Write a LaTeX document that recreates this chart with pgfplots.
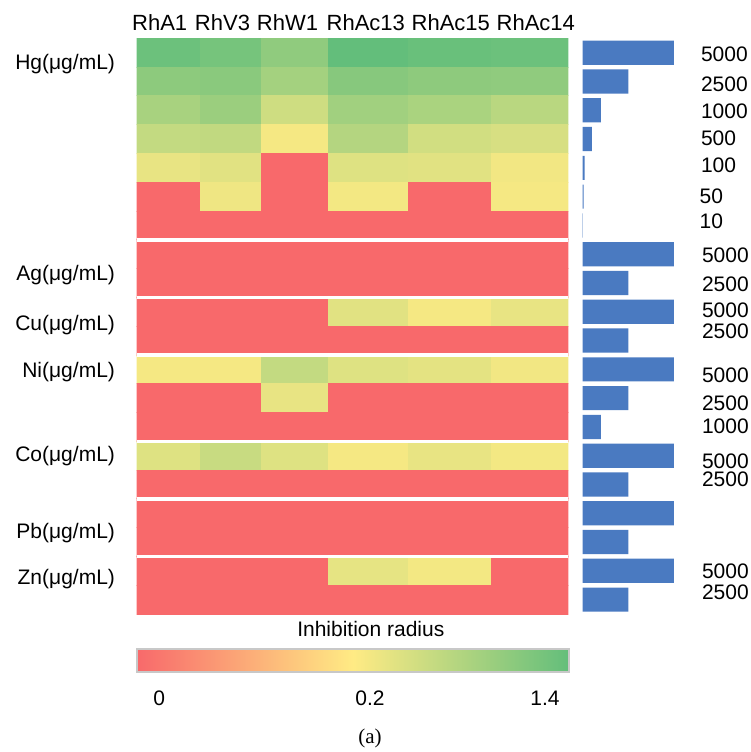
\documentclass[border=0pt]{standalone}
\usepackage{fontspec}
\setmainfont{Liberation Sans}
\newfontfamily\capfont{Liberation Serif}
\usepackage{pgfplots}
\usepackage{pgfplotstable}
\pgfplotsset{compat=1.18}

\definecolor{barblue}{RGB}{74,122,193}
\definecolor{cbframe}{RGB}{200,200,200}

% cell values (inhibition radius), one grid row per line; last vertex of each row is a dummy
\pgfplotstableread[row sep=\\]{
x y c\\
0 0 1.33\\ 63.3 0 1.25\\ 125 0 1.05\\ 191.6 0 1.40\\ 271.6 0 1.35\\ 355 0 1.33\\ 431.6 0 0\\
0 1 1.08\\ 63.3 1 1.10\\ 125 1 0.90\\ 191.6 1 1.12\\ 271.6 1 1.07\\ 355 1 1.05\\ 431.6 1 0\\
0 2 0.87\\ 63.3 2 0.97\\ 125 2 0.58\\ 191.6 2 0.92\\ 271.6 2 0.85\\ 355 2 0.74\\ 431.6 2 0\\
0 3 0.66\\ 63.3 3 0.68\\ 125 3 0.28\\ 191.6 3 0.78\\ 271.6 3 0.55\\ 355 3 0.51\\ 431.6 3 0\\
0 4 0.38\\ 63.3 4 0.43\\ 125 4 0\\ 191.6 4 0.45\\ 271.6 4 0.43\\ 355 4 0.30\\ 431.6 4 0\\
0 5 0\\ 63.3 5 0.32\\ 125 5 0\\ 191.6 5 0.29\\ 271.6 5 0\\ 355 5 0.28\\ 431.6 5 0\\
0 6 0\\ 63.3 6 0\\ 125 6 0\\ 191.6 6 0\\ 271.6 6 0\\ 355 6 0\\ 431.6 6 0\\
0 7 0\\ 63.3 7 0\\ 125 7 0\\ 191.6 7 0\\ 271.6 7 0\\ 355 7 0\\ 431.6 7 0\\
0 8 0\\ 63.3 8 0\\ 125 8 0\\ 191.6 8 0\\ 271.6 8 0\\ 355 8 0\\ 431.6 8 0\\
0 9 0\\ 63.3 9 0\\ 125 9 0\\ 191.6 9 0.43\\ 271.6 9 0.28\\ 355 9 0.38\\ 431.6 9 0\\
0 10 0\\ 63.3 10 0\\ 125 10 0\\ 191.6 10 0\\ 271.6 10 0\\ 355 10 0\\ 431.6 10 0\\
0 11 0.28\\ 63.3 11 0.28\\ 125 11 0.66\\ 191.6 11 0.45\\ 271.6 11 0.41\\ 355 11 0.30\\ 431.6 11 0\\
0 12 0\\ 63.3 12 0\\ 125 12 0.38\\ 191.6 12 0\\ 271.6 12 0\\ 355 12 0\\ 431.6 12 0\\
0 13 0\\ 63.3 13 0\\ 125 13 0\\ 191.6 13 0\\ 271.6 13 0\\ 355 13 0\\ 431.6 13 0\\
0 14 0.45\\ 63.3 14 0.62\\ 125 14 0.45\\ 191.6 14 0.28\\ 271.6 14 0.38\\ 355 14 0.29\\ 431.6 14 0\\
0 15 0\\ 63.3 15 0\\ 125 15 0\\ 191.6 15 0\\ 271.6 15 0\\ 355 15 0\\ 431.6 15 0\\
0 16 0\\ 63.3 16 0\\ 125 16 0\\ 191.6 16 0\\ 271.6 16 0\\ 355 16 0\\ 431.6 16 0\\
0 17 0\\ 63.3 17 0\\ 125 17 0\\ 191.6 17 0\\ 271.6 17 0\\ 355 17 0\\ 431.6 17 0\\
0 18 0\\ 63.3 18 0\\ 125 18 0\\ 191.6 18 0.39\\ 271.6 18 0.29\\ 355 18 0\\ 431.6 18 0\\
0 19 0\\ 63.3 19 0\\ 125 19 0\\ 191.6 19 0\\ 271.6 19 0\\ 355 19 0\\ 431.6 19 0\\
0 20 0\\ 63.3 20 0\\ 125 20 0\\ 191.6 20 0\\ 271.6 20 0\\ 355 20 0\\ 431.6 20 0\\
}\heat

% concentrations shown as bars, one per row
\pgfplotstableread{
conc row
5000 0.5
2500 1.5
1000 2.5
500 3.5
100 4.5
50 5.5
10 6.5
5000 7.5
2500 8.5
5000 9.5
2500 10.5
5000 11.5
2500 12.5
1000 13.5
5000 14.5
2500 15.5
5000 16.5
2500 17.5
5000 18.5
2500 19.5
}\conc

\begin{document}
\begin{tikzpicture}
\useasboundingbox (0,0) rectangle (375.5pt,-376pt);

% heatmap
\begin{axis}[at={(68.35pt,-19.15pt)}, anchor=north west,
  scale only axis, width=215.8pt, height=287.85pt, hide axis,
  xmin=0, xmax=431.6, ymin=0, ymax=20, y dir=reverse,
  colormap={rdylgn}{rgb255(0cm)=(248,105,107) rgb255(2cm)=(255,235,132) rgb255(14cm)=(99,190,123)},
  point meta min=0, point meta max=1.4]
  \addplot[surf, shader=flat corner, mesh/cols=7, mesh/rows=21, point meta=explicit]
    table[x=x, y=y, meta=c] {\heat};
  \draw[white, line width=1.8pt] (axis cs:0,7) -- (axis cs:431.6,7);
  \draw[white, line width=1.8pt] (axis cs:0,9) -- (axis cs:431.6,9);
  \draw[white, line width=1.8pt] (axis cs:0,11) -- (axis cs:431.6,11);
  \draw[white, line width=1.8pt] (axis cs:0,14) -- (axis cs:431.6,14);
  \draw[white, line width=1.8pt] (axis cs:0,16) -- (axis cs:431.6,16);
  \draw[white, line width=1.8pt] (axis cs:0,18) -- (axis cs:431.6,18);
\end{axis}

% concentration bars
\begin{axis}[at={(291.35pt,-19.15pt)}, anchor=north west,
  scale only axis, width=45.65pt, height=287.85pt, hide axis,
  xmin=0, xmax=5000, ymin=0, ymax=20, y dir=reverse,
  xbar, bar width=0.84]
  \addplot[fill=barblue, draw=none] table[x=conc, y=row] {\conc};
\end{axis}

% colour scale
\begin{axis}[at={(68.35pt,-316pt)}, anchor=north west,
  scale only axis, width=216.3pt, height=11.5pt, hide axis,
  xmin=0, xmax=1, ymin=0, ymax=1,
  colormap={rdylgnbar}{rgb255=(248,105,107) rgb255=(255,235,132) rgb255=(99,190,123)},
  point meta min=0, point meta max=1,
  colorbar horizontal,
  colorbar style={at={(parent axis.north west)}, anchor=north west,
    scale only axis, width=216.3pt, height=11.5pt,
    xtick=\empty, ytick=\empty,
    axis line style={draw=cbframe, line width=1.1pt}}]
\end{axis}

\begin{scope}[x=0.5pt, y=-0.5pt, font=\fontsize{10.5}{12}\selectfont]
  % column names
  \begin{scope}[font=\fontsize{11}{13}\selectfont]
  \node[anchor=base] at (159.7,30) {RhA1};
  \node[anchor=base] at (222.5,30) {RhV3};
  \node[anchor=base] at (287.5,30) {RhW1};
  \node[anchor=base] at (365.8,30) {RhAc13};
  \node[anchor=base] at (450.8,30) {RhAc15};
  \node[anchor=base] at (535.8,30) {RhAc14};
  \end{scope}
  % metal names
  \node[anchor=base east] at (122,69) {Hg(μg/mL)};
  \node[anchor=base east] at (122,280) {Ag(μg/mL)};
  \node[anchor=base east] at (122,330) {Cu(μg/mL)};
  \node[anchor=base east] at (122,377) {Ni(μg/mL)};
  \node[anchor=base east] at (122,461) {Co(μg/mL)};
  \node[anchor=base east] at (122,538) {Pb(μg/mL)};
  \node[anchor=base east] at (122,584) {Zn(μg/mL)};
  % concentration labels
  \node[anchor=base west] at (694,61) {5000};
  \node[anchor=base west] at (694,91) {2500};
  \node[anchor=base west] at (694,118) {1000};
  \node[anchor=base west] at (694,145) {500};
  \node[anchor=base west] at (694,172) {100};
  \node[anchor=base east] at (730,203) {50};
  \node[anchor=base east] at (730,228.5) {10};
  \node[anchor=base west] at (695,262) {5000};
  \node[anchor=base west] at (695,291) {2500};
  \node[anchor=base west] at (695,317) {5000};
  \node[anchor=base west] at (695,338) {2500};
  \node[anchor=base west] at (695,382) {5000};
  \node[anchor=base west] at (695,410) {2500};
  \node[anchor=base west] at (695,433) {1000};
  \node[anchor=base west] at (695,468) {5000};
  \node[anchor=base west] at (695,486) {2500};
  \node[anchor=base west] at (695,578.5) {5000};
  \node[anchor=base west] at (695,599.5) {2500};
  % colour scale texts
  \node[anchor=base] at (370.8,636.7) {Inhibition radius};
  \node[anchor=base] at (159.3,705) {0};
  \node[anchor=base] at (370,705) {0.2};
  \node[anchor=base] at (545,705) {1.4};
  \node[anchor=base, font=\capfont\fontsize{10.5}{12}\selectfont] at (370,743) {(a)};
\end{scope}
\end{tikzpicture}
\end{document}
